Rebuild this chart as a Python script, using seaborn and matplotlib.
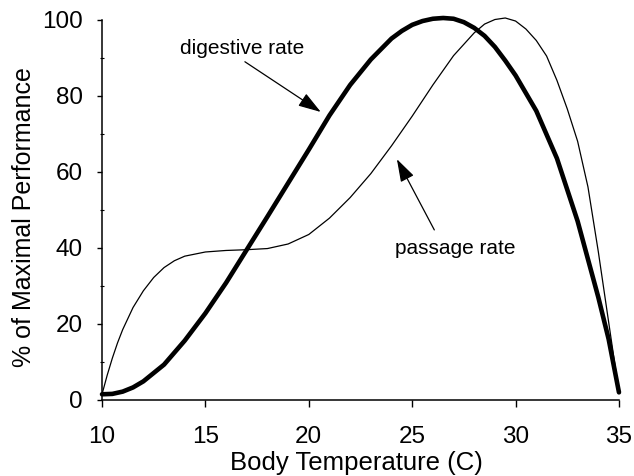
import matplotlib
matplotlib.use("Agg")
import matplotlib.pyplot as plt
import seaborn as sns
import pandas as pd

# Digestive rate (thick curve)
dig_temp = [10, 10.5, 11, 11.5, 12, 13, 14, 15, 16, 17, 18, 19, 20, 21, 22, 23, 24,
            24.5, 25, 25.5, 26, 26.5, 27, 27.5, 28, 28.5, 29, 29.5, 30, 31, 32, 33,
            34, 34.5, 35]
dig_perf = [1.5, 1.6, 2.2, 3.3, 4.9, 9.3, 15.6, 22.8, 30.8, 39.5, 48.2, 57, 65.8,
            74.8, 82.8, 89.5, 95, 97, 98.6, 99.6, 100.2, 100.4, 100.2, 99.3, 97.8,
            95.7, 92.8, 89.2, 85.3, 76, 63.5, 47, 27, 16, 2]

# Passage rate (thin curve)
pas_temp = [10, 10.25, 10.5, 10.75, 11, 11.5, 12, 12.5, 13, 13.5, 14, 15, 16, 17, 18,
            19, 20, 21, 22, 23, 24, 25, 26, 27, 28, 28.5, 29, 29.5, 30, 30.5, 31,
            31.5, 32, 32.5, 33, 33.5, 34, 34.5, 35]
pas_perf = [1.5, 6.5, 11, 15, 18.5, 24.3, 28.7, 32.2, 34.8, 36.6, 37.8, 38.9, 39.3,
            39.5, 39.8, 41, 43.5, 47.8, 53.2, 59.5, 66.8, 74.6, 82.8, 90.5, 96.5,
            98.8, 100, 100.4, 99.6, 97.5, 94.5, 90.4, 84, 76.5, 68, 56, 39, 20.5, 2]

x_ticks = [10, 15, 20, 25, 30, 35]
y_ticks = [0, 20, 40, 60, 80, 100]
x_label = "Body Temperature (C)"
y_label = "% of Maximal Performance"
dig_label = "digestive rate"
pas_label = "passage rate"

sns.set_style("ticks")
plt.rcParams["font.family"] = ["Liberation Sans", "DejaVu Sans"]
plt.rcParams["text.color"] = "black"
plt.rcParams["axes.labelcolor"] = "black"
plt.rcParams["xtick.color"] = "black"
plt.rcParams["ytick.color"] = "black"

fig = plt.figure(figsize=(6.34, 4.76), dpi=100)
ax = fig.add_axes([0.1609, 0.1597, 0.8154, 0.7993])

dig_df = pd.DataFrame({"temp": dig_temp, "perf": dig_perf})
pas_df = pd.DataFrame({"temp": pas_temp, "perf": pas_perf})

sns.lineplot(data=pas_df, x="temp", y="perf", ax=ax, color="black", linewidth=0.9,
             sort=False, estimator=None, clip_on=False)
sns.lineplot(data=dig_df, x="temp", y="perf", ax=ax, color="black", linewidth=3.3,
             sort=False, estimator=None, clip_on=False)

ax.set_xlim(10, 35)
ax.set_ylim(0, 100)
ax.set_xticks(x_ticks)
ax.set_yticks(y_ticks)
ax.set_yticks([10, 30, 50, 70, 90], minor=True)
ax.tick_params(axis="x", which="major", direction="out", length=5, width=1,
               pad=14, labelsize=17.5)
ax.tick_params(axis="y", which="major", direction="out", length=3.6, width=1,
               pad=10, labelsize=17.5)
ax.tick_params(axis="y", which="minor", direction="inout", length=3, width=0.8)

for side in ["top", "right"]:
    ax.spines[side].set_visible(False)
for side in ["left", "bottom"]:
    ax.spines[side].set_linewidth(1.1)
    ax.spines[side].set_color("black")

ax.set_xlabel("")
ax.set_ylabel("")
fig.text(356.5 / 634, 1 - 470 / 476, x_label, fontsize=18.5, ha="center",
         va="baseline")
fig.text(24 / 634, 1 - 217 / 476, y_label, fontsize=18, ha="center",
         va="center", rotation=90)

ax.text(16.79, 92.4, dig_label, fontsize=15, ha="center", va="center")
ax.text(27.07, 39.7, pas_label, fontsize=15, ha="center", va="center")

arrow_style = dict(arrowstyle="-|>,head_length=1.4,head_width=0.45",
                   mutation_scale=10, color="black", linewidth=0.9,
                   shrinkA=0, shrinkB=0)
ax.annotate("", xy=(20.58, 75.7), xytext=(16.91, 88.9), arrowprops=arrow_style)
ax.annotate("", xy=(24.26, 63.3), xytext=(26.07, 44.7), arrowprops=arrow_style)

fig.savefig("out.png", dpi=100)
